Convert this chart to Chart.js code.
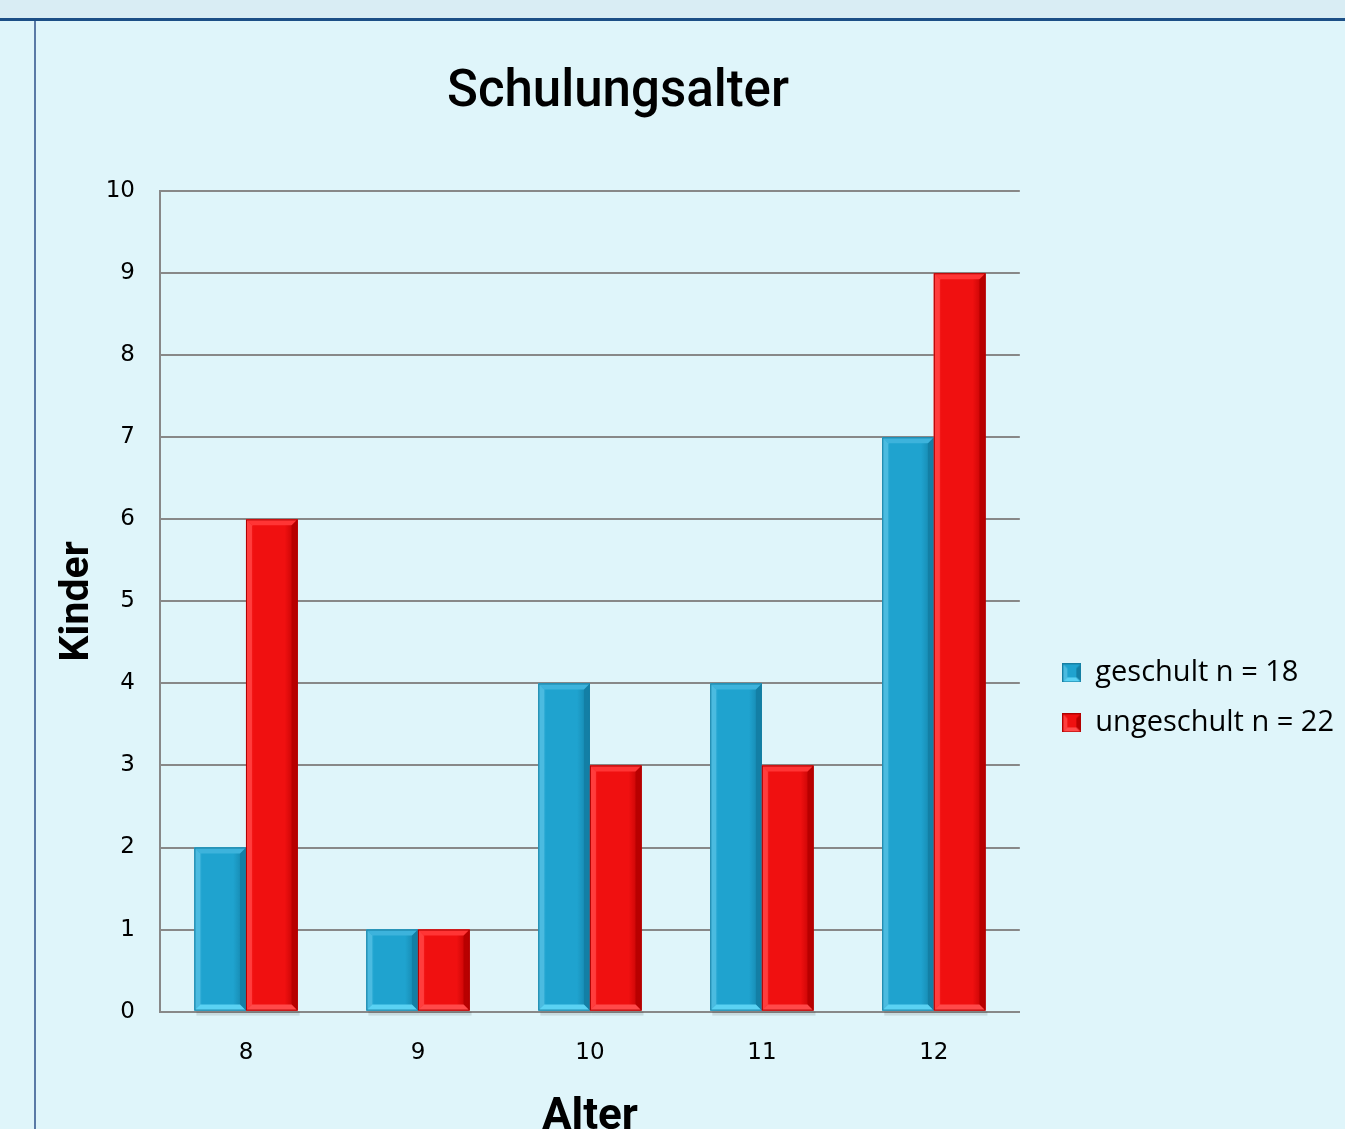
<!DOCTYPE html>
<html><head><meta charset="utf-8">
<script src="https://cdn.jsdelivr.net/npm/chart.js@4"></script>
<style>
html,body{margin:0;padding:0;width:1345px;height:1129px;overflow:hidden;background:#dff5fa;}
#top{position:absolute;left:0;top:0;width:1345px;height:18px;background:#d9edf4;border-bottom:3px solid #1c4f86;}
#vl{position:absolute;left:34px;top:21px;width:2px;height:1108px;background:#5a7aa6;z-index:2;}
#wrap{position:absolute;left:-108px;top:21px;width:1472px;height:1123px;}
</style></head><body>
<div id="top"></div><div id="vl"></div>
<div id="wrap"><canvas id="c"></canvas></div>
<script>
const categories = ['8','9','10','11','12'];
const geschult = [2,1,4,4,7];
const ungeschult = [6,1,3,3,9];
const seriesNames = ['geschult n = 18','ungeschult n = 22'];
const yTicks = [0,1,2,3,4,5,6,7,8,9,10];

const palettes = [
  {main:'#1fa3cf', left:'#4bbbe0', right:'#137fa5', top:'#3db3dc', bottom:'#5ad2f3', edge:'#167fa3'},
  {main:'#f01010', left:'#ff3d3d', right:'#b80000', top:'#ff3535', bottom:'#ff4a4a', edge:'#b00000'}
];

function iconCanvas(p){
  const c = document.createElement('canvas'); c.width = 19; c.height = 19;
  const g = c.getContext('2d');
  g.fillStyle = p.main; g.fillRect(0,0,19,19);
  g.fillStyle = p.left; g.beginPath(); g.moveTo(0,0); g.lineTo(5,5); g.lineTo(5,14); g.lineTo(0,19); g.fill();
  g.fillStyle = p.right; g.beginPath(); g.moveTo(19,0); g.lineTo(14,5); g.lineTo(14,14); g.lineTo(19,19); g.fill();
  g.fillStyle = p.bottom; g.beginPath(); g.moveTo(0,19); g.lineTo(5,14); g.lineTo(14,14); g.lineTo(19,19); g.fill();
  g.strokeStyle = p.edge; g.lineWidth = 1; g.strokeRect(0.5,0.5,18,18);
  return c;
}

const bevelPlugin = {
  id:'bevel',
  afterDatasetsDraw(chart){
    const ctx = chart.ctx;
    chart.data.datasets.forEach((ds, di) => {
      const p = palettes[di];
      chart.getDatasetMeta(di).data.forEach(el => {
        const {x, y, base, width} = el.getProps(['x','y','base','width'], true);
        const l = x - width/2, r = x + width/2, t = y, b = base;
        const h = b - t, bv = Math.min(6, h/3);
        ctx.save();
        ctx.fillStyle = 'rgba(0,0,0,0.10)';
        ctx.fillRect(l+2, b+1, width, 4);
        const g = ctx.createLinearGradient(l,0,r,0);
        g.addColorStop(0, p.left); g.addColorStop(0.15, p.main); g.addColorStop(0.75, p.main); g.addColorStop(1, p.right);
        ctx.fillStyle = g; ctx.fillRect(l, t, width, h);
        ctx.fillStyle = p.left;
        ctx.beginPath(); ctx.moveTo(l,t); ctx.lineTo(l+bv,t+bv); ctx.lineTo(l+bv,b-bv); ctx.lineTo(l,b); ctx.fill();
        ctx.fillStyle = p.right;
        ctx.beginPath(); ctx.moveTo(r,t); ctx.lineTo(r-bv,t+bv); ctx.lineTo(r-bv,b-bv); ctx.lineTo(r,b); ctx.fill();
        ctx.fillStyle = p.top;
        ctx.beginPath(); ctx.moveTo(l,t); ctx.lineTo(r,t); ctx.lineTo(r-bv,t+bv); ctx.lineTo(l+bv,t+bv); ctx.fill();
        ctx.fillStyle = p.bottom;
        ctx.beginPath(); ctx.moveTo(l,b); ctx.lineTo(r,b); ctx.lineTo(r-bv,b-bv); ctx.lineTo(l+bv,b-bv); ctx.fill();
        ctx.strokeStyle = p.edge; ctx.lineWidth = 1;
        ctx.strokeRect(l+0.5, t+0.5, width-1, h-1);
        ctx.restore();
      });
    });
  }
};

new Chart(document.getElementById('c'), {
  type:'bar',
  data:{labels:categories, datasets:[
    {label:seriesNames[0], data:geschult, backgroundColor:palettes[0].main, borderWidth:0, categoryPercentage:0.6, barPercentage:1.0, pointStyle:iconCanvas(palettes[0])},
    {label:seriesNames[1], data:ungeschult, backgroundColor:palettes[1].main, borderWidth:0, categoryPercentage:0.6, barPercentage:1.0, pointStyle:iconCanvas(palettes[1])}
  ]},
  plugins:[bevelPlugin],
  options:{
    responsive:true, maintainAspectRatio:false, animation:false,
    devicePixelRatio:1,
    layout:{padding:{left:0,right:20,top:10,bottom:0}},
    plugins:{
      title:{display:true, text:'Schulungsalter', color:'#000', font:{family:'Roboto', size:51, weight:'500'}, padding:{top:32,bottom:67}},
      legend:{position:'right', align:'center', fullSize:false, maxWidth:500,
        title:{display:true, text:' ', padding:{top:0,bottom:181}, font:{size:10}},
        labels:{color:'#000', font:{family:'Open Sans', size:29}, usePointStyle:true, pointStyleWidth:18, boxHeight:18, padding:21}},
      tooltip:{enabled:false}
    },
    scales:{
      x:{grid:{display:false, drawTicks:false}, border:{color:'#888',width:2},
        ticks:{color:'#000', font:{family:'DejaVu Sans', size:23}, padding:28},
        title:{display:true, text:'Alter', color:'#000', font:{family:'Roboto', size:44, weight:'700'}, padding:{top:-4,bottom:0}}},
      y:{min:0,max:10, afterBuildTicks:(a)=>{a.ticks=yTicks.map(v=>({value:v}));},
        afterFit:(s)=>{s.width=268;},
        grid:{color:'#888', lineWidth:2, drawTicks:false}, border:{color:'#888',width:2},
        ticks:{color:'#000', font:{family:'DejaVu Sans', size:23}, padding:25},
        title:{display:true, text:'Kinder', color:'#000', font:{family:'Roboto', size:41, weight:'700'}, padding:{top:161,bottom:0}}},
      y2:{position:'right', display:true, afterFit:(s)=>{s.width=22;},
        grid:{display:false, drawTicks:false}, border:{display:false}, ticks:{display:false}}
    }
  }
});
</script>
</body></html>
